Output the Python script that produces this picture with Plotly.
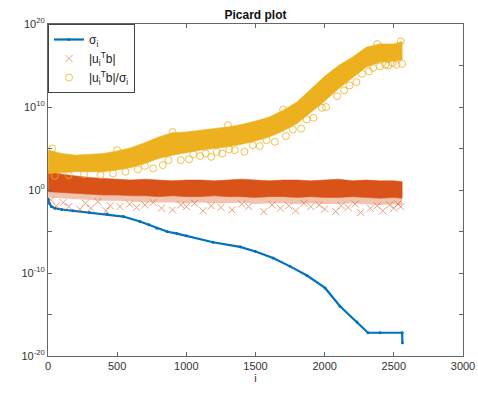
import plotly.graph_objects as go

# ---------------- data (log10 values) ----------------
sig_i = [1, 10, 25, 50, 100, 180, 300, 425, 545, 665, 730, 788, 860, 932, 1000,
         1193, 1388, 1500, 1627, 1750, 1872, 2003, 2111, 2234, 2313, 2400, 2560, 2562]
sig_log = [-1.1, -1.6, -2.0, -2.2, -2.35, -2.5, -2.7, -2.9, -3.2, -3.8, -4.2, -4.6, -5.0, -5.25, -5.5,
           -6.3, -6.85, -7.4, -8.2, -9.2, -10.3, -11.8, -14.0, -15.9, -17.2, -17.2, -17.2, -18.4]

knots = [1, 100, 200, 300, 400, 500, 600, 700, 800, 900, 1000, 1100, 1200, 1300,
         1400, 1500, 1600, 1700, 1800, 1900, 2000, 2100, 2200, 2300, 2400, 2500, 2560]

# |u_i^T b| band
red_top = [2.3, 1.9, 1.7, 1.5, 1.4, 1.3, 1.2, 1.3, 1.2, 1.1, 1.2, 1.2, 1.1, 1.2,
           1.3, 1.2, 1.1, 1.2, 1.2, 1.1, 1.2, 1.3, 1.1, 1.2, 1.1, 1.1, 1.0]
red_bot = [-0.2, -0.3, -0.4, -0.5, -0.6, -0.6, -0.7, -0.7, -0.8, -0.7, -0.8, -0.8, -0.7, -0.8,
           -0.8, -0.9, -0.8, -0.8, -0.9, -0.8, -0.9, -0.9, -0.8, -0.9, -1.0, -0.9, -1.0]
red_fringe = [-0.9, -1.0, -1.1, -1.2, -1.3, -1.3, -1.4, -1.5, -1.5, -1.5, -1.6, -1.5, -1.6, -1.6,
              -1.5, -1.7, -1.6, -1.6, -1.7, -1.6, -1.7, -1.7, -1.6, -1.7, -1.8, -1.7, -1.8]
red_out_i = [60, 150, 230, 310, 420, 450, 520, 640, 700, 820, 900, 1000, 1120, 1250,
             1330, 1450, 1560, 1680, 1790, 1900, 2000, 2080, 2170, 2260, 2330, 2420, 2500, 2550,
             20, 110, 270, 360, 590, 760, 960, 1060, 1180, 1400, 1620, 1740, 1850, 1960, 2120, 2220,
             2380, 2470, 2530]
red_out_log = [-1.9, -2.0, -2.3, -2.2, -2.5, -1.9, -2.0, -2.1, -1.8, -2.2, -2.4, -2.0, -2.5, -2.1,
               -2.4, -2.0, -2.6, -2.2, -2.5, -2.0, -2.3, -2.6, -2.1, -2.7, -2.2, -2.5, -2.2, -2.0,
               -1.2, -1.5, -1.6, -1.4, -1.7, -1.5, -1.8, -1.6, -1.9, -1.7, -1.8, -1.9, -1.6, -1.8,
               -1.9, -1.7, -1.9, -1.8, -1.7]

# |u_i^T b| / sigma_i band
yel_top = [4.8, 4.4, 4.2, 4.3, 4.4, 4.7, 5.1, 5.7, 6.4, 6.9, 7.0, 7.2, 7.4, 7.6,
           7.9, 8.3, 8.8, 9.6, 10.6, 12.2, 13.7, 15.0, 16.0, 17.2, 17.6, 17.6, 17.9]
yel_bot = [2.0, 2.1, 2.2, 2.2, 2.2, 2.4, 2.7, 3.2, 3.8, 4.2, 4.5, 4.8, 5.0, 5.2,
           5.5, 5.9, 6.4, 7.1, 8.0, 9.4, 10.7, 12.2, 13.5, 14.8, 15.4, 15.5, 15.7]
yel_out_i = [50, 150, 260, 380, 470, 560, 650, 760, 830, 960, 1020, 1100, 1180, 1260, 1350,
             1420, 1530, 1640, 1720, 1830, 1920, 2010, 2090, 2180, 2270, 2350, 2400, 2460, 2520, 2560,
             30, 500, 900, 1300, 1700, 2380, 2550,
             700, 870, 1050, 1140, 1220, 1310, 1480, 1580, 1770, 1870, 1980, 2140, 2230, 2320, 2440, 2490]
yel_out_log = [1.7, 1.8, 1.9, 1.8, 2.0, 2.2, 2.5, 2.6, 3.0, 3.6, 3.7, 4.1, 4.0, 4.4, 4.8,
               4.6, 5.3, 5.8, 6.5, 7.4, 8.7, 10.0, 11.3, 12.6, 14.0, 14.7, 14.9, 15.0, 15.1, 15.2,
               5.0, 4.8, 7.0, 7.8, 9.7, 17.6, 17.9,
               2.9, 3.6, 4.3, 4.4, 4.6, 4.9, 5.4, 6.0, 7.3, 8.5, 9.9, 12.0, 13.0, 14.3, 15.1, 15.3]

x_ticks = [0, 500, 1000, 1500, 2000, 2500, 3000]
y_exps = [-20, -15, -10, -5, 0, 5, 10, 15, 20]

BLUE = "#0072BD"
RED = "#D95319"
YEL = "#EDB120"
FONT = "Liberation Sans, Arial, sans-serif"


def p10(v):
    return [10 ** e for e in v]


fig = go.Figure()

fig.add_trace(go.Scatter(
    x=sig_i, y=p10(sig_log), mode="lines+markers", name="σ<sub>i</sub>",
    line=dict(color=BLUE, width=2.2), marker=dict(size=3, color=BLUE)))

# red band
fig.add_trace(go.Scatter(
    x=knots + knots[::-1], y=p10(red_bot) + p10(red_fringe)[::-1], fill="toself",
    fillcolor="rgba(217,83,25,0.35)", line=dict(width=0), mode="lines",
    showlegend=False, hoverinfo="skip"))
fig.add_trace(go.Scatter(
    x=knots + knots[::-1], y=p10(red_top) + p10(red_bot)[::-1], fill="toself",
    fillcolor=RED, line=dict(width=0.6, color=RED), mode="lines",
    showlegend=False, hoverinfo="skip"))
fig.add_trace(go.Scatter(
    x=red_out_i, y=p10(red_out_log), mode="markers",
    name="|u<sub>i</sub><sup>T</sup>b|",
    marker=dict(symbol="x-thin", size=7, color=RED, opacity=0.55,
                line=dict(width=1, color=RED))))

# yellow band
fig.add_trace(go.Scatter(
    x=knots + knots[::-1], y=p10(yel_top) + p10(yel_bot)[::-1], fill="toself",
    fillcolor=YEL, line=dict(width=0.6, color=YEL), mode="lines",
    showlegend=False, hoverinfo="skip"))
fig.add_trace(go.Scatter(
    x=yel_out_i, y=p10(yel_out_log), mode="markers",
    name="|u<sub>i</sub><sup>T</sup>b|/σ<sub>i</sub>",
    marker=dict(symbol="circle-open", size=7, color=YEL, opacity=0.8,
                line=dict(width=1, color=YEL))))

axis_common = dict(
    showline=True, linecolor="#666", linewidth=1, mirror="ticks",
    ticks="inside", ticklen=4, tickwidth=1, tickcolor="#666",
    showgrid=False, zeroline=False, automargin=False,
    tickfont=dict(family=FONT, size=11, color="#333"),
)

fig.update_xaxes(range=[0, 3000], tickvals=x_ticks, ticktext=[str(v) for v in x_ticks],
                 title=dict(text="i", standoff=2, font=dict(family=FONT, size=11, color="#333")),
                 **axis_common)
fig.update_yaxes(type="log", range=[-20, 20], tickvals=[10.0 ** e for e in y_exps],
                 ticktext=[("10<sup>%d</sup>" % e) if e % 10 == 0 else "" for e in y_exps],
                 **axis_common)

fig.update_layout(
    width=478, height=396,
    margin=dict(l=48, r=15, t=24, b=40),
    paper_bgcolor="white", plot_bgcolor="white",
    title=dict(text="<b>Picard plot</b>", x=0.5, xref="paper", y=1 - 15 / 396, yanchor="middle",
               font=dict(family=FONT, size=12, color="#111")),
    legend=dict(x=0, y=1, xanchor="left", yanchor="top", bgcolor="white",
                bordercolor="#444", borderwidth=1, traceorder="normal",
                font=dict(family=FONT, size=12, color="#222")),
    showlegend=True,
)

fig.write_html("out.html", config={"displayModeBar": False},
               post_script="document.body.style.margin='0';document.body.style.overflow='hidden';")
